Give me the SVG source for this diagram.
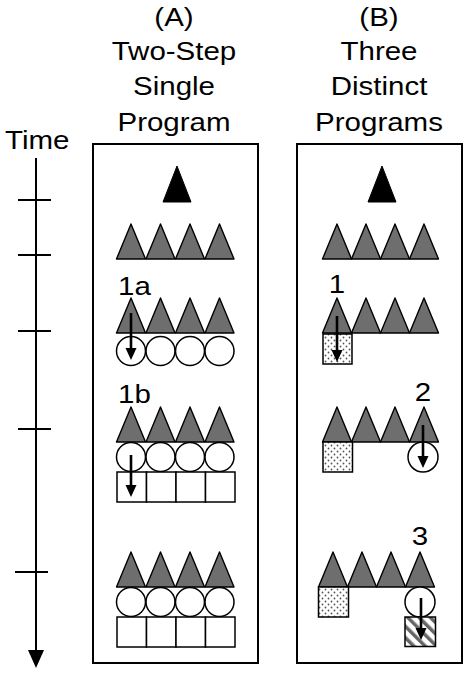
<svg xmlns="http://www.w3.org/2000/svg" width="465" height="673" viewBox="0 0 465 673">
<style>
text{font-family:"Liberation Sans",Arial,sans-serif;font-size:25px;fill:#000}
.panel{fill:#fff;stroke:#000;stroke-width:2}
.tri{fill:#6e6e6e;stroke:#000;stroke-width:1.4;stroke-linejoin:round}
.btri{fill:#000;stroke:#000;stroke-width:1}
.cir{fill:#fff;stroke:#000;stroke-width:1.5}
.sq{fill:#fff;stroke:#000;stroke-width:1.5}
.dot{fill:url(#dots);stroke:#000;stroke-width:1.5}
.hat{fill:url(#hatch);stroke:#000;stroke-width:1.5}
.arr{stroke:#000;stroke-width:2.6;fill:none;marker-end:url(#ah)}
.axis{stroke:#000;stroke-width:2;fill:none}
</style>
<defs>
<marker id="ah" markerUnits="userSpaceOnUse" markerWidth="12" markerHeight="12" refX="7" refY="6" orient="auto">
<path d="M0,0.5 L12,6 L0,11.5 z" fill="#000"/>
</marker>
<marker id="ahBig" markerUnits="userSpaceOnUse" markerWidth="18" markerHeight="16" refX="10" refY="8" orient="auto">
<path d="M0,0 L18,8 L0,16 z" fill="#000"/>
</marker>
<pattern id="dots" patternUnits="userSpaceOnUse" width="6" height="6">
<rect width="6" height="6" fill="#fff"/>
<circle cx="1.5" cy="1.5" r="0.9" fill="#555"/>
<circle cx="4.5" cy="4.5" r="0.9" fill="#555"/>
</pattern>
<pattern id="hatch" patternUnits="userSpaceOnUse" width="8" height="8" patternTransform="rotate(-45)">
<rect width="8" height="8" fill="#fff"/>
<rect x="2" width="3.5" height="8" fill="#666"/>
</pattern>
</defs>

<g id="titles">
<text text-anchor="middle" transform="translate(174,26) scale(1.18,1)">(A)</text>
<text text-anchor="middle" transform="translate(174,60) scale(1.18,1)">Two-Step</text>
<text text-anchor="middle" transform="translate(174,95) scale(1.18,1)">Single</text>
<text text-anchor="middle" transform="translate(174,131) scale(1.18,1)">Program</text>
<text text-anchor="middle" transform="translate(379,26) scale(1.18,1)">(B)</text>
<text text-anchor="middle" transform="translate(379,60) scale(1.18,1)">Three</text>
<text text-anchor="middle" transform="translate(379,95) scale(1.18,1)">Distinct</text>
<text text-anchor="middle" transform="translate(379,131) scale(1.18,1)">Programs</text>
<text transform="translate(5,149) scale(1.18,1)">Time</text>
</g>

<g id="panelA">
<rect class="panel" x="93" y="144" width="165" height="519"/>
</g>
<g id="panelB">
<rect class="panel" x="297" y="144" width="165" height="519"/>
</g>

<g id="A-top">
<polygon class="btri" points="177,166 163,202 191,202"/>
</g>
<g id="A-row1">
<polygon class="tri" points="131,224 116.5,259 145.5,259"/>
<polygon class="tri" points="160.5,224 146,259 175,259"/>
<polygon class="tri" points="190,224 175.5,259 204.5,259"/>
<polygon class="tri" points="219.5,224 205,259 234,259"/>
</g>
<g id="A-1a">
<text transform="translate(118,295) scale(1.18,1)">1a</text>
<polygon class="tri" points="131,298 116.5,333 145.5,333"/>
<polygon class="tri" points="160.5,298 146,333 175,333"/>
<polygon class="tri" points="190,298 175.5,333 204.5,333"/>
<polygon class="tri" points="219.5,298 205,333 234,333"/>
<circle class="cir" cx="131" cy="351" r="14.5"/>
<circle class="cir" cx="160.5" cy="351" r="14.5"/>
<circle class="cir" cx="190" cy="351" r="14.5"/>
<circle class="cir" cx="219.5" cy="351" r="14.5"/>
</g>
<g id="A-1b">
<text transform="translate(118,403) scale(1.18,1)">1b</text>
<polygon class="tri" points="131,407 116.5,442 145.5,442"/>
<polygon class="tri" points="160.5,407 146,442 175,442"/>
<polygon class="tri" points="190,407 175.5,442 204.5,442"/>
<polygon class="tri" points="219.5,407 205,442 234,442"/>
<circle class="cir" cx="131" cy="457" r="14.5"/>
<circle class="cir" cx="160.5" cy="457" r="14.5"/>
<circle class="cir" cx="190" cy="457" r="14.5"/>
<circle class="cir" cx="219.5" cy="457" r="14.5"/>
<rect class="sq" x="117" y="472" width="29.5" height="30"/>
<rect class="sq" x="146.5" y="472" width="29.5" height="30"/>
<rect class="sq" x="176" y="472" width="29.5" height="30"/>
<rect class="sq" x="205.5" y="472" width="29.5" height="30"/>
</g>
<g id="A-final">
<polygon class="tri" points="131,552 116.5,587 145.5,587"/>
<polygon class="tri" points="160.5,552 146,587 175,587"/>
<polygon class="tri" points="190,552 175.5,587 204.5,587"/>
<polygon class="tri" points="219.5,552 205,587 234,587"/>
<circle class="cir" cx="131" cy="602" r="14.5"/>
<circle class="cir" cx="160.5" cy="602" r="14.5"/>
<circle class="cir" cx="190" cy="602" r="14.5"/>
<circle class="cir" cx="219.5" cy="602" r="14.5"/>
<rect class="sq" x="117" y="617" width="29.5" height="30"/>
<rect class="sq" x="146.5" y="617" width="29.5" height="30"/>
<rect class="sq" x="176" y="617" width="29.5" height="30"/>
<rect class="sq" x="205.5" y="617" width="29.5" height="30"/>
</g>

<g id="B-top">
<polygon class="btri" points="382,166 368,202 396,202"/>
</g>
<g id="B-row1">
<polygon class="tri" points="337,224 322.5,259 351.5,259"/>
<polygon class="tri" points="366,224 351.5,259 380.5,259"/>
<polygon class="tri" points="395,224 380.5,259 409.5,259"/>
<polygon class="tri" points="424,224 409.5,259 438.5,259"/>
</g>
<g id="B-1">
<text text-anchor="middle" transform="translate(337,293) scale(1.18,1)">1</text>
<polygon class="tri" points="337,298 322.5,333 351.5,333"/>
<polygon class="tri" points="366,298 351.5,333 380.5,333"/>
<polygon class="tri" points="395,298 380.5,333 409.5,333"/>
<polygon class="tri" points="424,298 409.5,333 438.5,333"/>
<rect class="dot" x="323" y="334" width="29" height="30"/>
</g>
<g id="B-2">
<text text-anchor="middle" transform="translate(423,401) scale(1.18,1)">2</text>
<polygon class="tri" points="337,407 322.5,442 351.5,442"/>
<polygon class="tri" points="366,407 351.5,442 380.5,442"/>
<polygon class="tri" points="395,407 380.5,442 409.5,442"/>
<polygon class="tri" points="424,407 409.5,442 438.5,442"/>
<rect class="dot" x="323" y="442" width="29.5" height="30"/>
<circle class="cir" cx="423" cy="457" r="15"/>
</g>
<g id="B-3">
<text text-anchor="middle" transform="translate(420,545) scale(1.18,1)">3</text>
<polygon class="tri" points="333,552 318.5,587 347.5,587"/>
<polygon class="tri" points="362,552 347.5,587 376.5,587"/>
<polygon class="tri" points="391,552 376.5,587 405.5,587"/>
<polygon class="tri" points="420,552 405.5,587 434.5,587"/>
<rect class="dot" x="318.5" y="587" width="30" height="30"/>
<circle class="cir" cx="420" cy="602" r="15"/>
<rect class="hat" x="405" y="617" width="30.5" height="29.5"/>
</g>

<g id="connectors">
<line class="arr" x1="131" y1="313" x2="131" y2="355"/>
<line class="arr" x1="131" y1="455" x2="131" y2="492"/>
<line class="arr" x1="337" y1="316" x2="337" y2="357"/>
<line class="arr" x1="423" y1="425" x2="423" y2="463"/>
<line class="arr" x1="421" y1="598" x2="421" y2="635"/>
<line class="axis" x1="36" y1="158" x2="36" y2="660" marker-end="url(#ahBig)"/>
<line class="axis" x1="18" y1="200" x2="51" y2="200"/>
<line class="axis" x1="18" y1="255" x2="51" y2="255"/>
<line class="axis" x1="18" y1="331" x2="51" y2="331"/>
<line class="axis" x1="18" y1="429" x2="51" y2="429"/>
<line class="axis" x1="15" y1="572" x2="48" y2="572"/>
</g>
</svg>
